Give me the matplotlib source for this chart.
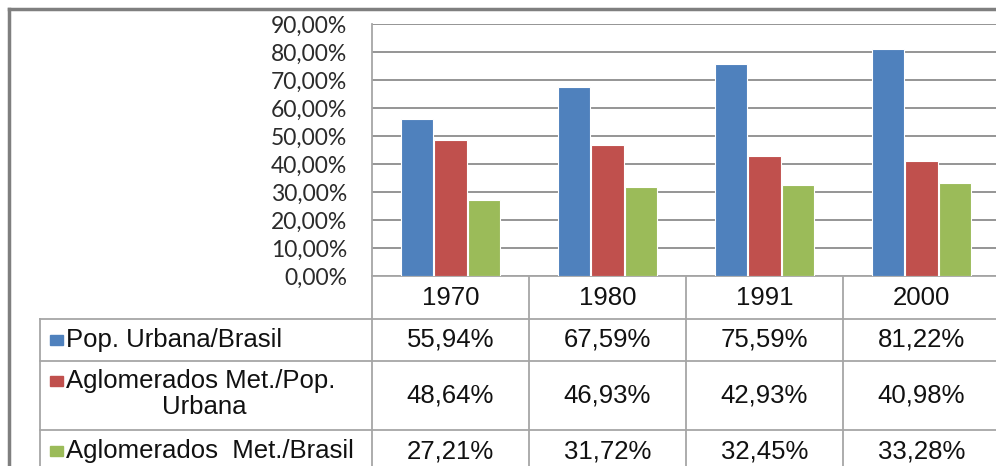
import matplotlib.pyplot as plt
import numpy as np
from matplotlib.patches import Rectangle
from matplotlib.lines import Line2D
from matplotlib.transforms import blended_transform_factory

years = ['1970', '1980', '1991', '2000']
row_labels = ['Pop. Urbana/Brasil', 'Aglomerados Met./Pop.', 'Aglomerados  Met./Brasil']
pop_urbana_brasil = [55.94, 67.59, 75.59, 81.22]
aglom_pop_urbana = [48.64, 46.93, 42.93, 40.98]
aglom_brasil = [27.21, 31.72, 32.45, 33.28]
series = [pop_urbana_brasil, aglom_pop_urbana, aglom_brasil]
colors = ['#4F81BD', '#C0504D', '#9BBB59']

W, H = 996, 466
fig = plt.figure(figsize=(W / 100, H / 100), dpi=100)
fig.patch.set_facecolor('white')


def fx(x):
    return x / W


def fy(y):
    return 1 - y / H


def pct(v):
    return f'{v:.2f}'.replace('.', ',') + '%'


grid_col = '#8C8C8C'
line_col = '#A6A6A6'

ax = fig.add_axes([fx(372), fy(276), fx(1000) - fx(372), fy(24) - fy(276)])
x = np.arange(len(years))
for k, (vals, c) in enumerate(zip(series, colors)):
    ax.bar(x + (k - 1) * 0.215, vals, width=0.205, color=c,
           edgecolor='white', linewidth=0.8, zorder=3)

ax.set_xlim(-0.5, 3.5)
ax.set_ylim(0, 90)
yt = np.arange(0, 91, 10)
ax.set_yticks(yt)
ax.set_yticklabels([pct(v) for v in yt], fontsize=16.5, family='Lato', color='#2B2B2B')
ax.set_xticks([])
ax.tick_params(axis='y', length=0, pad=18)
ax.yaxis.grid(True, color=grid_col, linewidth=1.3, zorder=0)
for s in ['top', 'right']:
    ax.spines[s].set_visible(False)
ax.spines['left'].set_color(line_col)
ax.spines['bottom'].set_color(line_col)
ax.spines['left'].set_linewidth(1.3)
ax.spines['bottom'].set_linewidth(1.3)

# data table below the bars
bt = blended_transform_factory(ax.transData, fig.transFigure)
tkw = dict(color=line_col, linewidth=1.3)

for yy in [319, 361, 430]:
    fig.add_artist(Line2D([fx(40), 1], [fy(yy), fy(yy)], transform=fig.transFigure, **tkw))
fig.add_artist(Line2D([fx(40), fx(40)], [fy(319), 0], transform=fig.transFigure, **tkw))
for b in [-0.5, 0.5, 1.5, 2.5]:
    fig.add_artist(Line2D([b, b], [fy(276), 0], transform=bt, **tkw))

tfont = dict(family='Liberation Sans', fontsize=18.5, color='#111111')
for i, yr in enumerate(years):
    fig.text(i, fy(298), yr, transform=bt, ha='center', va='center', **tfont)

row_y = [340, 396, 451]
for r, (vals, c) in enumerate(zip(series, colors)):
    for i, v in enumerate(vals):
        fig.text(i, fy(row_y[r]), pct(v), transform=bt, ha='center', va='center', **tfont)

label_y = [340, 381, 451]
for r, (lab, c) in enumerate(zip(row_labels, colors)):
    fig.add_artist(Rectangle((fx(50), fy(label_y[r] + 5)), fx(13), 10 / H,
                             transform=fig.transFigure, color=c))
    fig.text(fx(66), fy(label_y[r]), lab, ha='left', va='center', **tfont)
fig.text(fx(204), fy(407), 'Urbana', ha='center', va='center', **tfont)

# chart frame
fkw = dict(color='#7F7F7F', linewidth=2.5, transform=fig.transFigure)
fig.add_artist(Line2D([fx(9), fx(9)], [fy(9), 0], **fkw))
fig.add_artist(Line2D([fx(9), 1], [fy(9), fy(9)], **fkw))

fig.savefig('out.png', dpi=100)
